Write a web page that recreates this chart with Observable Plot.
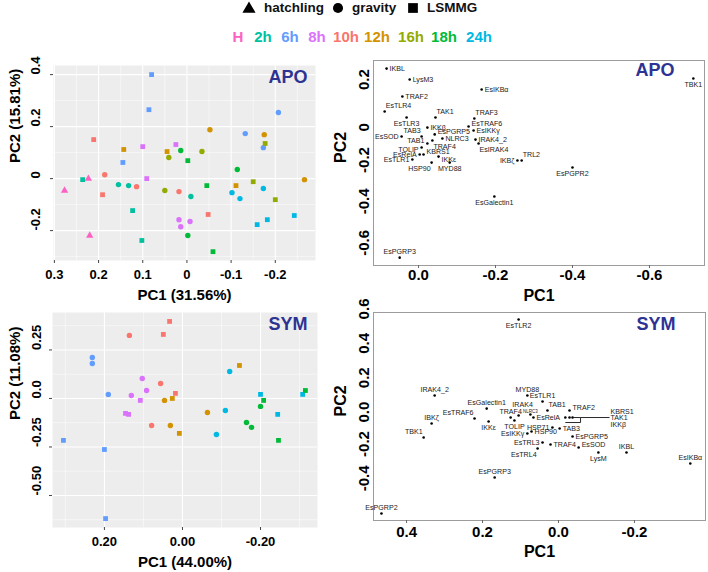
<!DOCTYPE html>
<html><head><meta charset="utf-8">
<script src="https://cdn.jsdelivr.net/npm/d3@7"></script>
<script src="https://cdn.jsdelivr.net/npm/@observablehq/plot@0.6"></script>
<style>
body{margin:0;background:#fff;font-family:"Liberation Sans",Arial,sans-serif;}
#wrap{position:relative;width:708px;height:572px;overflow:hidden;background:#fff;}
</style></head><body><div id="wrap"></div>
<script>
// ---------- legend data ----------
const timeGroups = ["H","2h","6h","8h","10h","12h","16h","18h","24h"];
const timeColors = ["#FF61C3","#00C19F","#619CFF","#DB72FB","#F8766D","#D39200","#93AA00","#00BA38","#00B9E3"];
const sampleTypes = ["hatchling","gravity","LSMMG"];
const typeSymbols = ["triangle","circle","square"];

// ---------- APO sample scores (top-left) ----------
const apoTime = ["H","H","H","2h","2h","2h","2h","2h","2h","6h","6h","6h","6h","6h","6h","8h","8h","8h","8h","8h","8h","10h","10h","10h","10h","10h","10h","12h","12h","12h","12h","12h","12h","16h","16h","16h","16h","16h","16h","18h","18h","18h","18h","18h","18h","24h","24h","24h","24h","24h","24h"];
const apoType = ["hatchling","hatchling","hatchling",
 "LSMMG","gravity","gravity","gravity","LSMMG","LSMMG",
 "LSMMG","LSMMG","LSMMG","gravity","gravity","gravity",
 "LSMMG","LSMMG","LSMMG","gravity","gravity","gravity",
 "LSMMG","gravity","gravity","gravity","LSMMG","LSMMG",
 "LSMMG","LSMMG","gravity","gravity","gravity","LSMMG",
 "gravity","gravity","LSMMG","gravity","LSMMG","LSMMG",
 "gravity","LSMMG","gravity","LSMMG","gravity","LSMMG",
 "gravity","gravity","gravity","LSMMG","LSMMG","LSMMG"];
const apoPC1 = [0.277,0.223,0.220,
 0.236,0.155,0.132,-0.009,0.123,0.102,
 0.080,0.086,0.145,-0.207,-0.132,-0.173,
 0.100,0.025,0.091,0.018,-0.007,0.014,
 0.211,0.186,0.114,0.018,0.191,-0.048,
 0.143,0.045,-0.052,-0.175,-0.266,-0.111,
 0.041,0.050,-0.177,-0.034,-0.150,-0.200,
 0.014,-0.002,-0.114,-0.045,-0.002,-0.059,
 -0.102,-0.173,-0.120,-0.243,-0.182,-0.159];
const apoPC2 = [-0.046,0.000,-0.219,
 -0.004,-0.023,-0.027,-0.069,-0.123,-0.238,
 0.400,0.265,0.062,0.254,0.173,0.119,
 0.123,0.131,0.000,-0.158,-0.165,-0.185,
 0.150,0.015,-0.031,-0.050,-0.062,-0.138,
 0.112,0.104,0.188,0.169,-0.004,-0.027,
 0.081,-0.046,0.135,0.104,-0.012,-0.081,
 0.108,0.069,0.035,-0.027,-0.219,-0.281,
 -0.054,-0.038,-0.077,-0.142,-0.158,-0.177];

// ---------- SYM sample scores (bottom-left) ----------
const symTime = ["10h","10h","10h","10h","10h","10h","6h","6h","6h","6h","6h","6h","8h","8h","8h","8h","8h","8h","12h","12h","12h","12h","12h","12h","24h","24h","24h","24h","24h","24h","18h","18h","18h","18h","18h","18h"];
const symType = ["LSMMG","gravity","LSMMG","gravity","LSMMG","gravity",
 "gravity","gravity","gravity","LSMMG","LSMMG","LSMMG",
 "gravity","gravity","gravity","LSMMG","LSMMG","LSMMG",
 "gravity","LSMMG","LSMMG","gravity","gravity","LSMMG",
 "gravity","LSMMG","LSMMG","gravity","LSMMG","gravity",
 "LSMMG","LSMMG","gravity","gravity","gravity","LSMMG"];
const symPC1 = [0.033,0.136,0.049,0.056,0.018,0.079,
 0.231,0.231,0.190,0.305,0.200,0.197,
 0.103,0.092,0.131,0.108,0.146,0.138,
 0.046,0.026,-0.146,-0.064,0.031,0.008,
 -0.121,-0.200,-0.308,-0.110,-0.244,-0.087,
 -0.208,-0.315,-0.200,-0.164,-0.177,-0.246];
const symPC2 = [0.397,0.325,0.330,0.077,0.026,-0.139,
 0.211,0.180,0.021,-0.216,-0.263,-0.619,
 0.103,0.041,0.015,-0.010,-0.077,-0.082,
 -0.010,0.000,0.170,-0.072,-0.139,-0.180,
 0.139,0.021,0.021,-0.062,-0.082,-0.186,
 -0.010,0.041,-0.041,-0.124,-0.149,-0.216];

// ---------- APO gene loadings (top-right) ----------
const apoGenes = ["IKBL","LysM3","EsIKBα","TRAF2","EsTLR4","EsTLR3","TAK1","TRAF3","IKKβ","EsTRAF6","EsIKKγ","EsSOD","TAB3","EsPGRP5","NLRC3","IRAK4_2","TAB1","EsIRAK4","TRAF4","TOLIP","EsRelA","KBRS1","IKKε","EsTLR1","HSP90","MYD88","TRL2","IKBζ","EsPGPR2","EsGalectin1","EsPGRP3","TBK1"];
const apoLoad1 = [0.083,0.023,-0.164,0.042,0.088,0.031,-0.044,-0.145,-0.023,-0.130,-0.143,0.044,-0.008,-0.042,-0.062,-0.148,-0.023,-0.156,-0.036,-0.008,-0.003,-0.013,-0.052,0.016,-0.034,-0.081,-0.268,-0.257,-0.400,-0.197,0.049,-0.714];
const apoLoad2 = [0.304,0.251,0.203,0.169,0.097,0.068,0.068,0.063,0.019,0.024,0.005,-0.024,-0.024,-0.014,-0.034,-0.039,-0.058,-0.058,-0.043,-0.077,-0.111,-0.111,-0.121,-0.135,-0.150,-0.150,-0.140,-0.140,-0.174,-0.314,-0.609,0.256];
const apoLabelAt = ["r","r","r","r","tr","b","tr","tr","r","ru","r","l","tl","ru","r","r","lu","br","br","ld","l","ru","rd","l","bl","b","tr","l","b","b","t","b"];

// ---------- SYM gene loadings (bottom-right) ----------
const symGenes = ["EsTLR2","IRAK4_2","MYD88","EsGalectin1","IRAK4","EsTLR1","TAB1","TRAF2","EsTRAF6","IBKζ","TBK1","IKKε","TRAF4","NLRC3","TOLIP","EsRelA","HSP71","TAB3","KBRS1","TAK1","IKKβ","HSP90","EsIKKγ","EsPGRP5","EsTRL3","TRAF4","EsSOD","EsTRL4","LysM","IKBL","EsIKBα","EsPGRP3","EsPGRP2"];
const symLoad1 = [0.105,0.326,0.082,0.189,0.105,0.042,0.029,-0.029,0.221,0.334,0.355,0.184,0.126,0.074,0.116,0.066,0.016,-0.003,-0.018,-0.029,-0.037,0.071,0.082,-0.037,0.042,0.021,-0.053,0.055,-0.105,-0.179,-0.347,0.168,0.466];
const symLoad2 = [0.599,0.157,0.157,0.081,0.041,0.122,0.070,0.070,0.023,-0.006,-0.087,0.006,0.029,0.047,0.012,0.029,-0.029,-0.035,0.029,0.029,0.029,-0.052,-0.064,-0.081,-0.116,-0.128,-0.145,-0.151,-0.174,-0.174,-0.238,-0.320,-0.529];
const symLabelAt = ["b","t","t","t","t2","t","tr","ru","tl","t","tl","b","t","tiny","b","r","l","r","x","x","x","r","l","r","l","r","ru","bl","b","t","t","t","t"];
const symBracketGenes = ["KBRS1","TAK1","IKKβ"];

// ---------- tick labels ----------
const apoScoreXTicks = [0.3,0.2,0.1,0,-0.1,-0.2], apoScoreXLabels = ["0.3","0.2","0.1","0","-0.1","-0.2"];
const apoScoreYTicks = [0.4,0.2,0,-0.2], apoScoreYLabels = ["0.4","0.2","0","-0.2"];
const symScoreXTicks = [0.2,0,-0.2], symScoreXLabels = ["0.20","0.00","-0.20"];
const symScoreYTicks = [0.25,0,-0.25,-0.5], symScoreYLabels = ["0.25","0.0","-0.25","-0.50"];
const apoLoadXTicks = [0,-0.2,-0.4,-0.6], apoLoadXLabels = ["0.0","-0.2","-0.4","-0.6"];
const apoLoadYTicks = [0.2,0,-0.2,-0.4,-0.6], apoLoadYLabels = ["0.2","0","-0.2","-0.4","-0.6"];
const symLoadXTicks = [0.4,0.2,0,-0.2], symLoadXLabels = ["0.4","0.2","0.0","-0.2"];
const symLoadYTicks = [0.6,0.4,0.2,0,-0.2,-0.4], symLoadYLabels = ["0.6","0.4","0.2","0.0","-0.2","-0.4"];

// ---------- helpers ----------
const FONT = '"Liberation Sans", Arial, Helvetica, sans-serif';
const W = document.getElementById("wrap");
function place(node, left, top){ node.style.position="absolute"; node.style.left=left+"px"; node.style.top=top+"px"; W.appendChild(node); }
function minor(ticks){ const s=[...ticks].sort((a,b)=>a-b); const st=s[1]-s[0]; const out=[]; for(let i=0;i<s.length;i++){ out.push(s[i]-st/2);} out.push(s[s.length-1]+st/2); return out; }

function scorePanel(o){
  const data = o.pc1.map((v,i)=>({pc1:v, pc2:o.pc2[i], time:o.time[i], type:o.type[i]}));
  return Plot.plot({
    width:o.width, height:o.height, marginLeft:o.ml, marginRight:o.mr, marginTop:o.mt, marginBottom:o.mb,
    x:{domain:o.xDomain}, y:{domain:o.yDomain},
    color:{domain:timeGroups, range:timeColors},
    symbol:{domain:sampleTypes, range:typeSymbols},
    style:{fontFamily:FONT, overflow:"visible", background:"transparent", color:"#000"},
    marks:[
      Plot.frame({fill:"#EDEDED", stroke:"none"}),
      Plot.ruleX(minor(o.xTicks),{stroke:"#fff",strokeWidth:0.5}),
      Plot.ruleY(minor(o.yTicks),{stroke:"#fff",strokeWidth:0.5}),
      Plot.ruleX(o.xTicks,{stroke:"#fff",strokeWidth:1.1}),
      Plot.ruleY(o.yTicks,{stroke:"#fff",strokeWidth:1.1}),
      Plot.axisX(o.xTicks,{tickSize:3, tickFormat:()=>"", label:null, stroke:"#444"}),
      Plot.axisY(o.yTicks,{tickSize:3, tickFormat:()=>"", label:null, stroke:"#444"}),
      Plot.dot(data,{x:"pc1",y:"pc2",fill:"time",symbol:"type",r:2.7}),
      Plot.text([o.tag],{text:d=>d,frameAnchor:"top-right",lineAnchor:"middle",dx:o.tagDx,dy:12,fill:"#2D3393",fontSize:18,fontWeight:"bold"}),
      Plot.text(o.xTicks,{x:d=>d,text:(d,i)=>o.xLabels[i],frameAnchor:"bottom",lineAnchor:"middle",dy:14,fontSize:13,fontWeight:"bold",fill:"#000"}),
      Plot.text(o.yTicks,{y:d=>d,text:(d,i)=>o.yLabels[i],frameAnchor:"left",lineAnchor:"middle",dx:o.ytdx,rotate:-90,fontSize:13,fontWeight:"bold",fill:"#000"}),
      Plot.text([o.xTitle],{text:d=>d,frameAnchor:"bottom",lineAnchor:"middle",dy:35,fontSize:15,fontWeight:"bold",fill:"#000"}),
      Plot.text([o.yTitle],{text:d=>d,frameAnchor:"left",lineAnchor:"middle",dx:o.ydx,rotate:-90,fontSize:15,fontWeight:"bold",fill:"#000"})
    ]
  });
}

const LABEL_CODES = {
  r:[3,0,"start"], l:[-3,0,"end"], t:[0,-6,"middle"], b:[0,6,"middle"],
  tr:[1,-6,"start"], tl:[-1,-6,"end"], br:[1,6,"start"], bl:[-1,6,"end"],
  ru:[3,-3,"start"], rd:[3,3,"start"], lu:[-3,-3,"end"], ld:[-3,2,"end"], t2:[4,-11,"middle"]
};
const LABEL_SIZE = 7.1;

function loadPanel(o){
  const data = o.genes.map((g,i)=>({gene:g, pc1:o.l1[i], pc2:o.l2[i], at:o.at[i]}));
  const labelMarks = Object.entries(LABEL_CODES).map(([k,[dx,dy,ta]]) =>
    Plot.text(data.filter(d=>d.at===k),{x:"pc1",y:"pc2",text:"gene",dx,dy,textAnchor:ta,lineAnchor:"middle",fontSize:LABEL_SIZE,fill:"#1a1a1a"}));
  labelMarks.push(Plot.text(data.filter(d=>d.at==="tiny"),{x:"pc1",y:"pc2",text:"gene",dx:0,dy:-3,textAnchor:"middle",lineAnchor:"middle",fontSize:4.5,fill:"#1a1a1a"}));
  const extra = [];
  if (o.bracket){
    const cl = data.filter(d=>o.bracket.includes(d.gene));
    const xr = d3.min(cl,d=>d.pc1), xl = d3.max(cl,d=>d.pc1), ym = d3.mean(cl,d=>d.pc2);
    const u = o.pxX, v = o.pxY;
    const segs = [
      {x1:xr-1*u,y1:ym,x2:xr-8*u,y2:ym},
      {x1:xr-8*u,y1:ym,x2:xr-8*u,y2:ym-5*v},
      {x1:xl,y1:ym-5*v,x2:xr-8*u,y2:ym-5*v},
      {x1:xr-8*u,y1:ym,x2:xr-37*u,y2:ym}
    ];
    extra.push(Plot.link(segs,{x1:"x1",y1:"y1",x2:"x2",y2:"y2",stroke:"#111",strokeWidth:0.9}));
    const offs = [-6,0,7];
    cl.forEach((d,i)=>extra.push(Plot.text([d],{x:()=>xr-38*u,y:()=>ym,text:"gene",dx:0,dy:offs[i],textAnchor:"start",lineAnchor:"middle",fontSize:LABEL_SIZE,fill:"#1a1a1a"})));
  }
  return Plot.plot({
    width:o.width, height:o.height, marginLeft:o.ml, marginRight:o.mr, marginTop:o.mt, marginBottom:o.mb,
    x:{domain:o.xDomain}, y:{domain:o.yDomain},
    style:{fontFamily:FONT, overflow:"visible", background:"transparent", color:"#000"},
    marks:[
      Plot.frame({stroke:"#9c9c9c", strokeWidth:1}),
      Plot.axisX(o.xTicks,{tickSize:3, tickFormat:()=>"", label:null, stroke:"#666"}),
      Plot.axisY(o.yTicks,{tickSize:0, tickFormat:()=>"", label:null}),
      Plot.dot(data,{x:"pc1",y:"pc2",r:1.3,fill:"#000"}),
      ...labelMarks,
      ...extra,
      Plot.text([o.tag],{text:d=>d,frameAnchor:"top-right",lineAnchor:"middle",dx:-30,dy:o.tagDy,fill:"#2D3393",fontSize:18,fontWeight:"bold"}),
      Plot.text(o.xTicks,{x:d=>d,text:(d,i)=>o.xLabels[i],frameAnchor:"bottom",lineAnchor:"middle",dy:o.xtdy,fontSize:15,fontWeight:"bold",fill:"#000"}),
      Plot.text(o.yTicks,{y:d=>d,text:(d,i)=>o.yLabels[i],frameAnchor:"left",lineAnchor:"middle",dx:-9,rotate:-90,fontSize:15,fontWeight:"bold",fill:"#000"}),
      Plot.text(["PC1"],{text:d=>d,frameAnchor:"bottom",lineAnchor:"middle",dy:o.xtitdy,fontSize:16,fontWeight:"bold",fill:"#000"}),
      Plot.text(["PC2"],{text:d=>d,frameAnchor:"left",lineAnchor:"middle",dx:-33,rotate:-90,fontSize:16,fontWeight:"bold",fill:"#000"})
    ]
  });
}

// ---------- legend ----------
function span(txt, x, y, size, color, anchor){
  const s=document.createElement("span"); s.textContent=txt;
  s.style.cssText=`position:absolute;left:${x}px;top:${y}px;transform:translate(${anchor==="start"?"0":"-50%"},-50%);font-weight:bold;font-size:${size}px;color:${color};white-space:nowrap;line-height:1;font-family:${FONT}`;
  W.appendChild(s);
}
(function legend(){
  const ns="http://www.w3.org/2000/svg";
  const svg=document.createElementNS(ns,"svg"); svg.setAttribute("width",708); svg.setAttribute("height",20);
  const shapeX=[249,338,413];
  typeSymbols.forEach((sym,i)=>{
    const p=document.createElementNS(ns,"path");
    p.setAttribute("d", d3.symbol(sym==="triangle"?d3.symbolTriangle:sym==="circle"?d3.symbolCircle:d3.symbolSquare, sym==="square"?95:sym==="triangle"?75:80)());
    p.setAttribute("transform",`translate(${shapeX[i]},${sym==="triangle"?9:8})`);
    p.setAttribute("fill","#000"); svg.appendChild(p);
  });
  place(svg,0,0);
  const textX=[264,352,427];
  sampleTypes.forEach((t,i)=>span(t,textX[i],8,13.5,"#111","start"));
  const cx=[238,263,290,317,346,377,411,444,479];
  timeGroups.forEach((g,i)=>span(g,cx[i],36,15,timeColors[i],"middle"));
})();

// ---------- panels ----------
place(scorePanel({
  width:325,height:250,ml:53,mr:10,mt:10,mb:45,
  xDomain:[0.302,-0.291], yDomain:[-0.315,0.435],
  time:apoTime,type:apoType,pc1:apoPC1,pc2:apoPC2,
  xTicks:apoScoreXTicks,xLabels:apoScoreXLabels,yTicks:apoScoreYTicks,yLabels:apoScoreYLabels,
  tag:"APO",tagDx:-8,ytdx:-18,ydx:-38,xTitle:"PC1 (31.56%)",yTitle:"PC2 (15.81%)"
}),0,55);

place(scorePanel({
  width:325,height:267,ml:52,mr:8,mt:7,mb:45,
  xDomain:[0.333,-0.346], yDomain:[-0.665,0.443],
  time:symTime,type:symType,pc1:symPC1,pc2:symPC2,
  xTicks:symScoreXTicks,xLabels:symScoreXLabels,yTicks:symScoreYTicks,yLabels:symScoreYLabels,
  tag:"SYM",tagDx:-10,ytdx:-16,ydx:-37,xTitle:"PC1 (44.00%)",yTitle:"PC2 (11.08%)"
}),0,305);

place(loadPanel({
  width:383,height:255,ml:48,mr:4,mt:10,mb:40,
  xDomain:[0.117,-0.743], yDomain:[-0.647,0.343],
  genes:apoGenes,l1:apoLoad1,l2:apoLoad2,at:apoLabelAt,
  xTicks:apoLoadXTicks,xLabels:apoLoadXLabels,yTicks:apoLoadYTicks,yLabels:apoLoadYLabels,
  tag:"APO",tagDy:10,xtdy:10,xtitdy:30
}),325,50);

place(loadPanel({
  width:383,height:270,ml:48,mr:3,mt:10,mb:52,
  xDomain:[0.487,-0.387], yDomain:[-0.57,0.64],
  genes:symGenes,l1:symLoad1,l2:symLoad2,at:symLabelAt,bracket:symBracketGenes,pxX:1/380,pxY:1/172,
  xTicks:symLoadXTicks,xLabels:symLoadXLabels,yTicks:symLoadYTicks,yLabels:symLoadYLabels,
  tag:"SYM",tagDy:12,xtdy:12,xtitdy:31
}),325,302);
</script></body></html>
